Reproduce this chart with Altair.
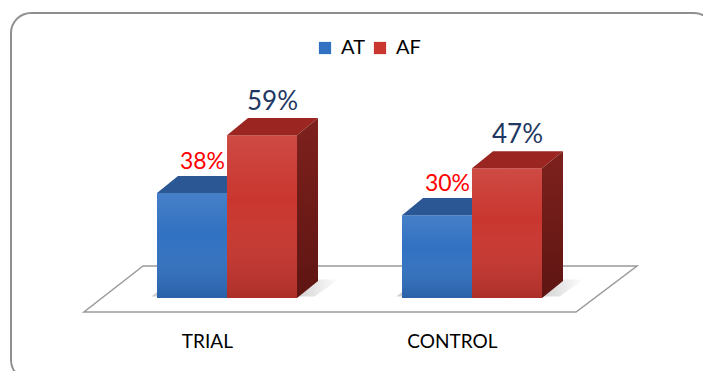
import altair as alt
import pandas as pd

# ---- data ----
groups = ["TRIAL", "CONTROL"]
series = ["AT", "AF"]
at_values = [38, 30]
af_values = [59, 47]

# ---- layout constants (in scale units) ----
BAR_W = 1.0
GROUP_STEP = 3.5
DX = 0.30   # depth offset along x
DY = 6.2    # depth offset along y
X_DOMAIN = [-157 / 70, 546 / 70]
Y_DOMAIN = [-73 / 2.76, 298 / 2.76]

BLUE = "#3171c2"
RED = "#c9362f"
BLUE_TOP = "#2b5794"
RED_TOP = "#9a2521"

values = {"AT": at_values, "AF": af_values}
front_rows, top_rows, side_rows, label_rows, shadow_rows = [], [], [], [], []
for gi, g in enumerate(groups):
    gx0 = gi * GROUP_STEP
    gx1 = gx0 + BAR_W * len(series)
    shadow_rows.append(dict(grp=g, y=0.5, xa=gx0 - 0.08, xb=gx1 + 0.25))
    shadow_rows.append(dict(grp=g, y=DY + 0.5, xa=gx0 + DX - 0.08, xb=gx1 + DX + 0.3))
    for si, s in enumerate(series):
        v = values[s][gi]
        x0 = gx0 + si * BAR_W
        x1 = x0 + BAR_W
        bar = f"{g}-{s}"
        front_rows.append(dict(bar=bar, group=g, series=s, x0=x0, x1=x1, base=0, v=v))
        top_rows.append(dict(bar=bar, series=s, y=v, xa=x0, xb=x1))
        top_rows.append(dict(bar=bar, series=s, y=v + DY, xa=x0 + DX, xb=x1 + DX))
        side_rows.append(dict(bar=bar, series=s, x=x1, ytop=v, ybot=0))
        side_rows.append(dict(bar=bar, series=s, x=x1 + DX, ytop=v + DY, ybot=DY))
        label_rows.append(dict(series=s, x=(x0 + x1) / 2 + DX / 2, y=v + DY, text=f"{v}%"))

front_df = pd.DataFrame(front_rows)
top_df = pd.DataFrame(top_rows)
side_df = pd.DataFrame(side_rows)
label_df = pd.DataFrame(label_rows)
shadow_df = pd.DataFrame(shadow_rows)
cat_df = pd.DataFrame(
    dict(group=groups, x=[gi * GROUP_STEP + BAR_W - 0.28 for gi in range(len(groups))], y=[-15.9] * len(groups))
)
floor_df = pd.DataFrame(dict(y=[-5.07, 11.6], xa=[-1.043, -0.2], xb=[5.986, 6.857]))

xs = alt.Scale(domain=X_DOMAIN, nice=False, zero=False)
ys = alt.Scale(domain=Y_DOMAIN, nice=False, zero=False)

border = alt.Chart(pd.DataFrame({"a": [0]})).mark_rect(
    fill="white", fillOpacity=0, stroke="#8f8f8f", strokeWidth=2, cornerRadius=20
).encode(x=alt.value(11), x2=alt.value(714), y=alt.value(13), y2=alt.value(380))

floor = alt.Chart(floor_df).mark_area(
    orient="horizontal", fill="white", stroke="#9a9a9a", strokeWidth=1.5
).encode(
    y=alt.Y("y:Q", scale=ys, axis=None),
    x=alt.X("xa:Q", scale=xs, axis=None),
    x2="xb:Q",
)

shadow_grad = alt.Gradient(
    gradient="linear", x1=0, y1=0, x2=1, y2=0,
    stops=[
        alt.GradientStop(color="rgba(120,120,120,0.35)", offset=0),
        alt.GradientStop(color="rgba(120,120,120,0.30)", offset=0.8),
        alt.GradientStop(color="rgba(120,120,120,0.0)", offset=1),
    ],
)
shadow = alt.Chart(shadow_df).mark_area(orient="horizontal", color=shadow_grad).encode(
    y=alt.Y("y:Q", scale=ys, axis=None),
    x=alt.X("xa:Q", scale=xs, axis=None), x2="xb:Q",
    detail="grp:N",
)

color_enc = alt.Color(
    "series:N",
    scale=alt.Scale(domain=series, range=[BLUE, RED]),
    legend=alt.Legend(
        orient="none", legendX=315, legendY=38, direction="horizontal", title=None,
        symbolType="square", symbolSize=150, symbolStrokeWidth=0,
        labelFontSize=20, labelFont="Lato", labelColor="black",
        labelOffset=6, columnPadding=5, padding=0,
    ),
)

shade = alt.Gradient(
    gradient="linear", x1=0, y1=0, x2=0, y2=1,
    stops=[
        alt.GradientStop(color="rgba(255,255,255,0.10)", offset=0),
        alt.GradientStop(color="rgba(255,255,255,0.0)", offset=0.4),
        alt.GradientStop(color="rgba(0,0,0,0.14)", offset=1),
    ],
)

side_grad = alt.Gradient(
    gradient="linear", x1=0, y1=0, x2=0, y2=1,
    stops=[
        alt.GradientStop(color="#7e211d", offset=0),
        alt.GradientStop(color="#5e1512", offset=1),
    ],
)
side_grad_blue = alt.Gradient(
    gradient="linear", x1=0, y1=0, x2=0, y2=1,
    stops=[
        alt.GradientStop(color="#24497c", offset=0),
        alt.GradientStop(color="#1a355c", offset=1),
    ],
)

layers = [border, floor, shadow]
for s, top_col, side_col in [("AT", BLUE_TOP, side_grad_blue), ("AF", RED_TOP, side_grad)]:
    fr = alt.Chart(front_df).transform_filter(alt.datum.series == s)
    front = fr.mark_rect().encode(
        x=alt.X("x0:Q", scale=xs, axis=None), x2="x1:Q",
        y=alt.Y("base:Q", scale=ys, axis=None), y2="v:Q",
        color=color_enc,
    )
    overlay = fr.mark_rect(color=shade).encode(
        x=alt.X("x0:Q", scale=xs, axis=None), x2="x1:Q",
        y=alt.Y("base:Q", scale=ys, axis=None), y2="v:Q",
    )
    top = alt.Chart(top_df).transform_filter(alt.datum.series == s).mark_area(
        orient="horizontal", color=top_col
    ).encode(
        y=alt.Y("y:Q", scale=ys, axis=None),
        x=alt.X("xa:Q", scale=xs, axis=None), x2="xb:Q",
        detail="bar:N",
    )
    side = alt.Chart(side_df).transform_filter(alt.datum.series == s).mark_area(
        orient="vertical", color=side_col
    ).encode(
        x=alt.X("x:Q", scale=xs, axis=None),
        y=alt.Y("ytop:Q", scale=ys, axis=None), y2="ybot:Q",
        detail="bar:N",
    )
    layers += [front, overlay, top, side]

lab_at = alt.Chart(label_df).transform_filter(alt.datum.series == "AT").mark_text(
    font="Lato", fontSize=23, color="#ff0000", baseline="middle", align="center", dy=-14
).encode(x=alt.X("x:Q", scale=xs, axis=None), y=alt.Y("y:Q", scale=ys, axis=None), text="text:N")
lab_af = alt.Chart(label_df).transform_filter(alt.datum.series == "AF").mark_text(
    font="Lato", fontSize=26, color="#1f3864", baseline="middle", align="center", dy=-16
).encode(x=alt.X("x:Q", scale=xs, axis=None), y=alt.Y("y:Q", scale=ys, axis=None), text="text:N")
cats = alt.Chart(cat_df).mark_text(
    font="Lato", fontSize=19, color="black", baseline="middle", align="center"
).encode(x=alt.X("x:Q", scale=xs, axis=None), y=alt.Y("y:Q", scale=ys, axis=None), text="group:N")

layers += [lab_at, lab_af, cats]

chart = alt.layer(*layers).properties(
    width=703, height=371, padding=0, autosize=alt.AutoSizeParams(type="none"), background="white"
).configure_view(stroke=None)

chart.save("out.html", embed_options={"renderer": "svg", "actions": False})
